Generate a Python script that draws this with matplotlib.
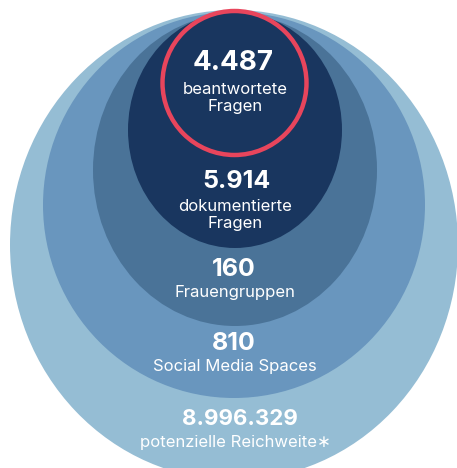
import matplotlib
matplotlib.use("Agg")
import matplotlib.pyplot as plt
from matplotlib.patches import Ellipse

# nested reach levels, outermost first
values = ["8.996.329", "810", "160", "5.914", "4.487"]
labels = ["potenzielle Reichweite∗", "Social Media Spaces", "Frauengruppen",
          "dokumentierte\nFragen", "beantwortete\nFragen"]
colors = ["#95bdd4", "#6996be", "#4a7398", "#19365f", "#19365f"]

# shape geometry in pixel space (cx, cy, width, height)
shapes = [(234, 245, 448, 470), (234, 205, 382, 386), (235, 170, 284, 312),
          (235, 130, 214, 236), (234.5, 83, 144, 144)]
num_x = [240, 234, 234, 237, 233]
num_y = [419, 343, 270, 182, 63]
lab_y = [442, 367, 293, 215, 98]
num_size = [16, 18, 18, 18, 20]

fig = plt.figure(figsize=(4.57, 4.68), dpi=100)
ax = fig.add_axes([0, 0, 1, 1])
ax.set_xlim(0, 457)
ax.set_ylim(468, 0)
ax.axis("off")

for i, (cx, cy, w, h) in enumerate(shapes):
    ax.add_patch(Ellipse((cx, cy), w, h, facecolor=colors[i], edgecolor="none", zorder=i))

# red highlight ring on the innermost level
cx, cy, w, h = shapes[-1]
ax.add_patch(Ellipse((cx, cy), w, h, facecolor="none", edgecolor="#e8455c", lw=3.2, zorder=10))

fam = ["Inter", "DejaVu Sans"]
for i in range(len(values)):
    ax.text(num_x[i], num_y[i], values[i], ha="center", va="center", color="white",
            fontsize=num_size[i], fontweight="bold", family=fam, zorder=11)
    ax.text(235, lab_y[i], labels[i], ha="center", va="center", color="white",
            fontsize=12, family=fam, linespacing=1.2, zorder=11)

fig.savefig("out.png", dpi=100)
